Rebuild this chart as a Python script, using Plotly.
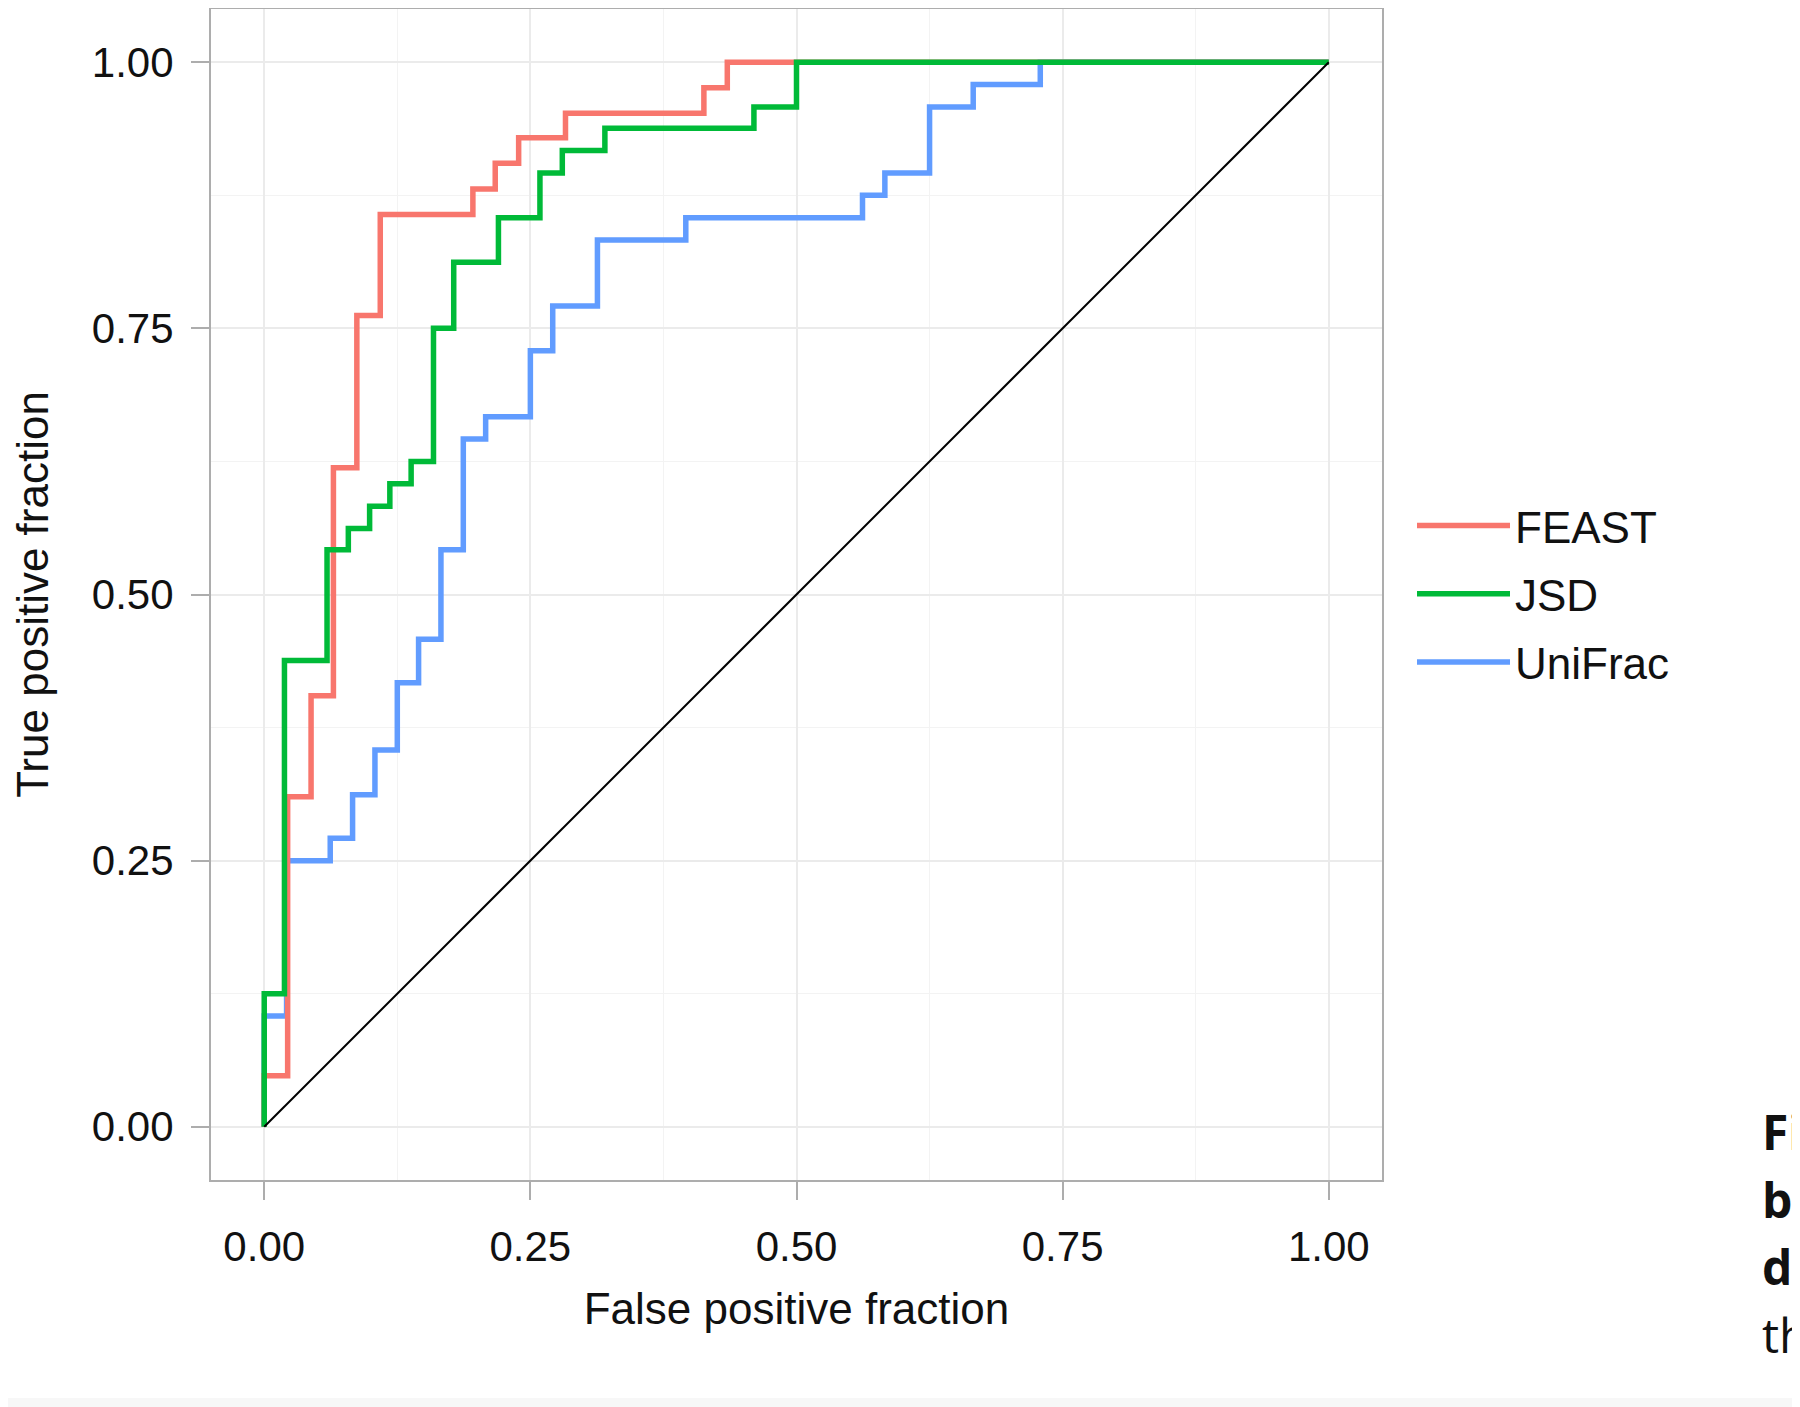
import plotly.graph_objects as go

# ---- data (step ROC curves) ----
feast_fpf = [0, 0.022, 0.044, 0.065, 0.087, 0.109, 0.196, 0.217, 0.239, 0.283, 0.413, 0.435, 1.0]
feast_tpf = [0, 0.048, 0.310, 0.405, 0.619, 0.762, 0.857, 0.881, 0.905, 0.929, 0.952, 0.976, 1.0]

jsd_fpf = [0, 0.019, 0.059, 0.079, 0.099, 0.118, 0.138, 0.159, 0.178, 0.220, 0.259, 0.280, 0.320, 0.460, 0.500, 1.0]
jsd_tpf = [0, 0.125, 0.438, 0.542, 0.562, 0.583, 0.604, 0.625, 0.750, 0.812, 0.854, 0.896, 0.917, 0.938, 0.958, 1.0]

unifrac_fpf = [0, 0.021, 0.062, 0.083, 0.104, 0.125, 0.145, 0.166, 0.187, 0.208, 0.250, 0.271, 0.313, 0.396,
               0.562, 0.583, 0.625, 0.666, 0.729, 1.0]
unifrac_tpf = [0, 0.104, 0.250, 0.271, 0.312, 0.354, 0.417, 0.458, 0.542, 0.646, 0.667, 0.729, 0.771, 0.833,
               0.854, 0.875, 0.896, 0.958, 0.979, 1.0]

chance_x = [0, 1]
chance_y = [0, 1]

series_names = ["FEAST", "JSD", "UniFrac"]
tick_vals = [0, 0.25, 0.5, 0.75, 1.0]
tick_text = ["0.00", "0.25", "0.50", "0.75", "1.00"]
caption_bits = ["<b>Fi</b>", "<b>b</b>", "<b>d</b>", "th"]

# ---- styling ----
OFF = 8                       # default page (body) margin of the html page
W, H = 1800 - OFF, 1407 - OFF
L, R, T, B = 211 - OFF, 1382 - OFF, 9 - OFF, 1180 - OFF  # plot-area box in figure pixels
FONT = "Liberation Sans, Arial, Helvetica, sans-serif"
colors = {"FEAST": "#F8766D", "JSD": "#00BA38", "UniFrac": "#619CFF"}
LW = 5.5

fig = go.Figure()

curves = {
    "FEAST": (feast_fpf, feast_tpf),
    "JSD": (jsd_fpf, jsd_tpf),
    "UniFrac": (unifrac_fpf, unifrac_tpf),
}
draw_order = ["UniFrac", "FEAST", "JSD"]
for name in draw_order:
    xs, ys = curves[name]
    fig.add_trace(go.Scatter(
        x=xs, y=ys, mode="lines", name=name,
        line=dict(color=colors[name], width=LW, shape="vh"),
        legendrank=series_names.index(name) + 1,
        legendgroup=name,
        hoverinfo="skip",
    ))

fig.add_trace(go.Scatter(
    x=chance_x, y=chance_y, mode="lines", showlegend=False,
    line=dict(color="black", width=2), hoverinfo="skip",
))

axis_common = dict(
    range=[-0.05, 1.05],
    tickmode="array", tickvals=tick_vals, ticktext=tick_text,
    showgrid=True, gridcolor="#EBEBEB", gridwidth=2,
    minor=dict(dtick=0.125, tick0=0, showgrid=True, gridcolor="#F3F3F3", gridwidth=1),
    showline=True, mirror=True, linecolor="#ADADAD", linewidth=2,
    ticks="outside", ticklen=18, tickwidth=2, tickcolor="#ADADAD",
    tickfont=dict(family=FONT, size=42, color="#111111"),
    zeroline=False, automargin=False,
)

fig.update_xaxes(**axis_common,
                 title=dict(text="False positive fraction",
                            font=dict(family=FONT, size=44, color="#111111"), standoff=24),
                 ticklabelstandoff=11)
fig.update_yaxes(**axis_common,
                 title=dict(text="True positive fraction",
                            font=dict(family=FONT, size=44, color="#111111"), standoff=38),
                 ticklabelstandoff=9)


def px_x(p):
    return (p - L) / (R - L)


def px_y(p):
    return (B - p) / (B - T)


# white page area inside a light grey frame
fig.add_shape(type="rect", xref="paper", yref="paper", layer="below",
              x0=px_x(-5), x1=px_x(1792 - OFF), y0=px_y(1398 - OFF), y1=px_y(0),
              fillcolor="white", line=dict(width=0))

# cropped caption fragments at the right edge
cap_y = [1131, 1199, 1266, 1334]
for txt, yy in zip(caption_bits, cap_y):
    fig.add_annotation(xref="paper", yref="paper", x=px_x(1760 - OFF), y=px_y(yy - OFF),
                       xanchor="left", yanchor="middle", showarrow=False,
                       text=txt, font=dict(family="Open Sans, Noto Sans, sans-serif", size=48, color="#111111"))

fig.update_layout(
    width=W, height=H,
    margin=dict(l=L, r=W - R, t=T, b=H - B, autoexpand=False),
    paper_bgcolor="#F7F7F7", plot_bgcolor="white",
    showlegend=True,
    legend=dict(
        xref="container", yref="container",
        x=(1412 - OFF) / W, y=1 - (594 - OFF) / H, xanchor="left", yanchor="middle",
        font=dict(family=FONT, size=44, color="#111111"),
        bgcolor="rgba(0,0,0,0)", tracegroupgap=8, itemwidth=93,
    ),
)

fig.write_html("out.html")
